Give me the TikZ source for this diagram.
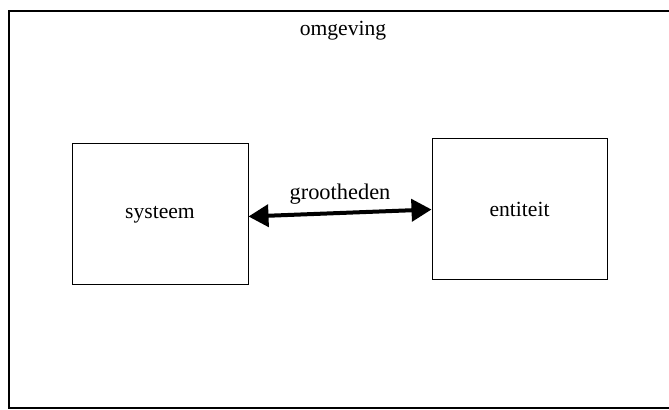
\documentclass[tikz,border=0pt]{standalone}
\usepackage{fontspec}
\setmainfont{Liberation Serif}
\usetikzlibrary{arrows.meta}
\begin{document}
\begin{tikzpicture}[x=0.5pt,y=-0.5pt,
  box/.style={draw,line width=0.5pt,inner sep=0pt},
  lbl/.style={font=\fontsize{10.8}{12}\selectfont,inner sep=0pt},
  flow/.style={line width=2pt,{Triangle[length=10pt,width=11pt]}-{Triangle[length=10pt,width=11pt]}}]
\useasboundingbox (0,0) rectangle (669,410);
\begin{scope}
\clip (0,0) rectangle (669,410);
\draw[line width=0.7pt] (9,11) rectangle (700,408);
\end{scope}
\node[lbl] (omg) at (343,31) {omgeving};
\node[box,minimum width=88pt,minimum height=70.5pt] (sys) at (160,214.5) {};
\node[box,minimum width=87.5pt,minimum height=70.5pt] (ent) at (519.5,209.5) {};
\node[lbl] at (sys.center) {systeem};
\node[lbl] at (ent.center) {entiteit};
\draw[flow] ([yshift=-1pt]sys.east) -- ([yshift=0pt]ent.west) node[midway,above=3.5pt,lbl,font=\fontsize{11.2}{12}\selectfont] (gr) {grootheden};
\end{tikzpicture}
\end{document}
